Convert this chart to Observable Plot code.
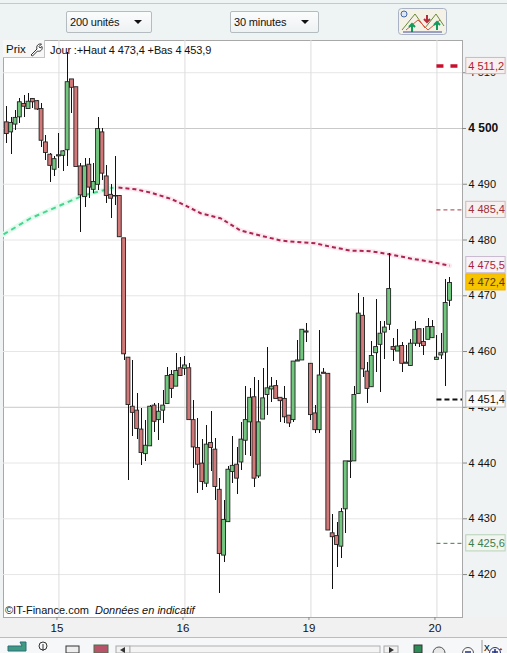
<!DOCTYPE html>
<html lang="fr">
<head>
<meta charset="utf-8">
<script src="https://cdn.jsdelivr.net/npm/d3@7"></script>
<script src="https://cdn.jsdelivr.net/npm/@observablehq/plot@0.6"></script>
<style>
html,body{margin:0;padding:0;background:#eff3f4;width:507px;height:653px;overflow:hidden;font-family:"Liberation Sans",Arial,sans-serif;color:#111}
#wrap{position:relative;width:507px;height:653px}
#chart{position:absolute;left:0;top:0}
.ov{position:absolute}
.dd{border:1px solid #b5bcc0;border-radius:2px;background:linear-gradient(#fbfcfc,#eef2f3);font-size:11px;letter-spacing:-0.15px;line-height:20px;height:20px;padding-left:3px;box-sizing:content-box}
.dd i{position:absolute;right:9px;top:8px;width:0;height:0;border-left:4px solid transparent;border-right:4px solid transparent;border-top:4px solid #111}
</style>
</head>
<body>
<div id="wrap">
  <div class="ov" style="left:0;top:0;width:507px;height:37px;background:#eef3f4"></div>
  <div class="ov" style="left:0;top:3px;width:507px;height:1px;background:#c3c9cc"></div>
  <div class="ov" style="left:0;top:617px;width:507px;height:20px;background:#f1f1f1"></div>
  <div class="ov" style="left:0;top:637px;width:507px;height:1px;background:#b9bdbf"></div>
  <div class="ov" style="left:0;top:638px;width:507px;height:15px;background:#f5f7f8"></div>
  <div id="chart"></div>
  <div class="ov dd" style="left:66px;top:11px;width:81px">200 unités<i></i></div>
  <div class="ov dd" style="left:230px;top:11px;width:84px">30 minutes<i></i></div>
  <svg class="ov" style="left:398px;top:8px" width="49" height="27" viewBox="0 0 49 27">
    <rect x="0.5" y="0.5" width="48" height="26" rx="3" fill="#f4f1e6" stroke="#a9b3c4"/>
    <path d="M4 22L17 6L27 20L38 6L46 18" fill="none" stroke="#6a8a3a"/>
    <path d="M8 22L20 12L30 22L42 12" fill="none" stroke="#d8553f"/>
    <path d="M14 24V17M11 19L14 16L17 19M39 22V15M36 17L39 14L42 17" stroke="#13995a" stroke-width="2" fill="none"/>
    <path d="M29 7V13M26 11L29 14L32 11" stroke="#b32d3c" stroke-width="2" fill="none"/>
    <path d="M5 24H44" stroke="#3d4fa0"/>
    <circle cx="6" cy="6" r="3" fill="#dde6f5" stroke="#4468a8"/>
  </svg>
  <div class="ov" style="left:3px;top:40px;width:42px;height:18px;background:#f7f7f7;border-right:1px solid #c4c4c4;border-bottom:1px solid #c4c4c4;font-size:11.5px;line-height:19px;padding-left:3px;box-sizing:border-box">Prix</div>
  <svg class="ov" style="left:29px;top:42px" width="15" height="15" viewBox="0 0 15 15"><path d="M2 13L8 7C7 4 9 1.500 12.500 2L10 4.500L11 6L13 4.500C14 8 11 10 8.500 9L3.500 14Z" fill="#fff" stroke="#333"/></svg>
  <div class="ov" style="left:50px;top:43px;font-size:11px;letter-spacing:-0.12px;line-height:14px;white-space:nowrap">Jour :+Haut 4 473,4 +Bas 4 453,9</div>
  <div class="ov" style="left:5px;top:604px;font-size:11px;line-height:13px;white-space:nowrap">©IT-Finance.com</div>
  <div class="ov" style="left:95px;top:604px;font-size:11px;line-height:13px;font-style:italic;white-space:nowrap">Données en indicatif</div>
  <svg class="ov" style="left:0;top:638px" width="507" height="15" viewBox="0 0 507 15">
    <path d="M8 8H22L20 4H26V13H8Z" fill="#3f9a82" stroke="#2c6c7a"/>
    <circle cx="43" cy="8" r="4" fill="none" stroke="#333"/><path d="M43 6V13" stroke="#333"/>
    <rect x="66" y="8" width="13" height="7" fill="#eee" stroke="#333"/>
    <rect x="94" y="7" width="14" height="8" fill="#b8546a" stroke="#4b6b4b"/>
    <rect x="116" y="8" width="14" height="7" fill="#f2f2f2" stroke="#a8a8a8"/>
    <path d="M125 9V15L120 12Z" fill="#333"/>
    <rect x="130" y="8" width="250" height="7" fill="#f4f4f4" stroke="#b0b0b0"/>
    <rect x="384" y="8" width="14" height="7" fill="#f2f2f2" stroke="#a8a8a8"/>
    <path d="M389 9V15L394 12Z" fill="#333"/>
    <rect x="414" y="7" width="8" height="8" fill="#2e8b57" stroke="#333"/>
    <circle cx="439" cy="15" r="6" fill="#e8e8e8" stroke="#555"/>
    <circle cx="468" cy="15" r="5.500" fill="#f8f8f8" stroke="#555"/><path d="M465 14H471" stroke="#223388" stroke-width="1.500"/>
    <circle cx="495" cy="15" r="5.500" fill="#f8f8f8" stroke="#223388"/><path d="M492 14H498M495 11V15" stroke="#223388" stroke-width="1.500"/>
    <path d="M482 2V15" stroke="#999"/>
  </svg>
</div>
<script>
const openP = [4501.1,4499.3,4500.7,4502.0,4504.4,4503.5,4505.3,4504.9,4503.5,4497.5,
4495.3,4492.6,4495.0,4495.1,4496.1,4508.8,4507.4,4493.2,4487.7,4493.5,
4489.0,4489.9,4499.3,4491.4,4488.1,4487.9,4487.9,4480.3,4458.9,4450.1,
4449.4,4446.0,4441.6,4443.0,4450.3,4447.7,4449.4,4450.6,4455.8,4453.7,
4457.0,4456.9,4457.0,4447.7,4442.7,4439.9,4436.3,4443.6,4442.4,4435.2,
4423.4,4429.4,4438.4,4439.7,4440.1,4444.0,4447.3,4451.8,4437.6,4447.8,
4452.2,4453.2,4453.8,4451.7,4451.5,4448.5,4447.7,4458.2,4458.4,4463.6,
4457.8,4448.9,4445.9,4456.2,4456.0,4427.4,4426.9,4425.0,4431.7,4440.2,
4440.3,4452.4,4466.4,4456.4,4453.6,4459.7,4461.2,4463.4,4464.8,4460.8,
4460.0,4461.0,4457.8,4457.4,4461.4,4464.0,4461.7,4462.1,4462.4,4458.5,
4459.3,4459.8,4469.1];
const closeP = [4499.0,4501.0,4501.9,4504.7,4503.9,4504.8,4504.7,4503.4,4497.8,4495.6,
4493.3,4494.5,4495.2,4495.9,4508.3,4507.3,4493.1,4488.0,4493.2,4489.4,
4490.4,4499.9,4491.9,4487.9,4487.4,4487.8,4480.5,4459.5,4450.4,4449.0,
4446.1,4441.8,4443.1,4450.1,4447.4,4449.2,4450.3,4455.6,4453.3,4456.5,
4455.6,4457.5,4447.7,4442.8,4439.7,4436.6,4443.3,4442.7,4435.7,4423.7,
4429.8,4438.8,4439.5,4437.2,4444.2,4447.7,4451.7,4437.2,4447.3,4451.6,
4453.4,4453.7,4451.5,4451.1,4448.2,4447.1,4458.2,4458.4,4463.9,4463.4,
4448.6,4445.9,4455.7,4456.0,4427.9,4426.7,4425.3,4431.2,4440.3,4440.3,
4452.2,4466.8,4456.8,4453.3,4459.2,4460.8,4463.2,4464.3,4471.2,4460.3,
4460.9,4457.8,4458.0,4461.4,4463.9,4461.4,4461.0,4464.4,4464.4,4458.9,
4459.7,4468.7,4472.3];
const highP = [4503.9,4502.0,4503.2,4505.4,4505.9,4506.3,4505.4,4505.0,4504.5,4498.7,
4495.6,4494.9,4499.1,4496.0,4513.7,4508.8,4507.4,4493.7,4494.6,4494.6,
4493.7,4502.0,4500.0,4493.4,4490.0,4495.0,4487.9,4480.3,4458.9,4458.4,
4452.5,4449.7,4447.6,4450.3,4450.7,4450.7,4453.1,4457.2,4456.6,4459.6,
4459.0,4459.1,4457.8,4451.2,4448.0,4444.3,4446.7,4449.3,4444.4,4437.3,
4433.3,4439.4,4444.8,4442.8,4447.3,4453.8,4453.3,4455.4,4454.8,4456.9,
4460.8,4455.3,4454.8,4451.7,4453.8,4448.5,4458.2,4462.0,4463.9,4465.1,
4457.8,4450.3,4463.8,4456.9,4456.0,4430.8,4429.4,4431.8,4440.3,4445.8,
4453.7,4470.4,4469.7,4458.1,4461.8,4469.3,4465.3,4465.3,4477.5,4462.4,
4463.9,4461.7,4461.1,4462.1,4465.4,4464.0,4464.1,4466.0,4465.6,4462.9,
4463.2,4472.9,4473.2];
const lowP = [4497.3,4495.3,4499.6,4500.9,4502.0,4503.5,4503.6,4503.2,4496.6,4494.3,
4490.4,4491.3,4492.8,4492.3,4493.2,4502.7,4493.1,4481.4,4485.9,4487.4,
4488.3,4488.9,4490.7,4486.5,4483.9,4486.2,4480.5,4458.4,4436.9,4444.8,
4444.3,4439.6,4440.3,4443.0,4445.5,4444.0,4447.1,4450.6,4451.5,4453.7,
4455.6,4455.7,4447.7,4439.1,4434.6,4435.1,4435.7,4438.5,4433.2,4416.6,
4422.2,4429.4,4436.3,4434.3,4438.7,4441.3,4441.2,4435.6,4437.3,4447.8,
4448.5,4450.9,4451.5,4447.3,4447.1,4446.3,4447.3,4458.2,4458.4,4461.7,
4447.7,4445.3,4445.3,4456.0,4427.9,4417.4,4421.2,4422.8,4427.3,4437.2,
4440.3,4452.4,4455.3,4450.7,4453.6,4456.3,4452.7,4458.5,4463.8,4458.2,
4460.0,4456.3,4457.8,4457.4,4460.9,4460.8,4459.3,4462.1,4462.4,4458.5,
4458.6,4453.7,4468.0];

const greenAvgIndex = [-0.76,5.45,8.45,11.67,17.65,24.56];
const greenAvgValue = [4481.0,4483.9,4484.9,4486.0,4488.0,4489.4];
const redAvgIndex = [25.7,29.6,33.1,37.7,41.1,44.6,49.2,53.8,58.4,63.0,67.6,71.0,74.5,79.1,83.7,88.3,92.9,97.5,101.9];
const redAvgValue = [4489.4,4489.1,4488.5,4487.4,4486.2,4484.8,4483.9,4481.7,4480.8,4479.9,4479.6,4479.4,4478.8,4478.1,4478.0,4477.4,4476.7,4476.1,4475.4];

const dayTicks = [12,41,70,99];
const dayLabels = ["15","16","19","20"];
const priceTicks = [4420,4430,4440,4450,4460,4470,4480,4490,4500,4510];
const majorTicks = [4450,4500];

const levelValues = [4511.2,4485.4,4475.5,4472.4,4451.4,4425.6];
const levelText = ["4 511,2","4 485,4","4 475,5","4 472,4","4 451,4","4 425,6"];
const levelInk = ["#b3202c","#9c2f3a","#a81e40","#5a3c00","#111111","#3f7d4a"];
const levelFill = ["#f6f0f0","#f6f0f0","#f7f3f6","#f7c400","#fbfbfb","#f1f6f0"];
const levelBorder = ["#d9b5b5","#d9b5b5","#c9bcd0","#f0b000","#b8b8b8","#b9d3b9"];
const levelLines = [
  {v:4511.2,c:"#c8102e",w:3.4,d:"7 7"},
  {v:4485.4,c:"#a83a44",w:1,d:"4 3"},
  {v:4451.4,c:"#111",w:2,d:"5 3"},
  {v:4425.6,c:"#3f7d4a",w:1,d:"4 3"}
];

const fmtTick = v => { const s = String(v); return s[0] + " " + s.slice(1); };
const idx = d3.range(openP.length);
const isUp = i => closeP[i] >= openP[i];
const avgG = greenAvgIndex.map((x,i)=>({x,y:greenAvgValue[i]}));
const avgR = redAvgIndex.map((x,i)=>({x,y:redAvgValue[i]}));
const levels = levelValues.map((v,i)=>({v,t:levelText[i],ink:levelInk[i],fill:levelFill[i],border:levelBorder[i]}));
const sideX0 = 105.75, sideX1 = 114.8, sideTextX = 106.2;

const chart = Plot.plot({
  width:507, height:653,
  marginLeft:3, marginRight:45, marginTop:40, marginBottom:36,
  style:{background:"transparent",fontFamily:"'Liberation Sans',Arial,sans-serif",fontSize:"11px",color:"#111"},
  x:{domain:[-0.76,104.88],axis:null},
  y:{domain:[4412.3,4515.78],axis:null},
  marks:[
    Plot.frame({fill:"#fff",stroke:"#a8a8a8"}),
    Plot.gridY(priceTicks.filter(t=>!majorTicks.includes(t)),{stroke:"#e6e6e6",strokeOpacity:1}),
    Plot.gridY(majorTicks,{stroke:"#c9c9c9",strokeOpacity:1}),
    Plot.gridX(dayTicks,{stroke:"#dcdcdc",strokeOpacity:1}),
    Plot.axisX({ticks:dayTicks,tickSize:3,tickPadding:3,tickFormat:d=>dayLabels[dayTicks.indexOf(d)],fontSize:11.5,stroke:"#888",anchor:"bottom",dx:-2}),
    Plot.axisY({ticks:priceTicks.filter(t=>t!==4500),tickSize:4,tickPadding:2,tickFormat:fmtTick,fontSize:11,stroke:"#888",anchor:"right"}),
    Plot.ruleY([4500],{x1:()=>104.88,x2:()=>105.8,stroke:"#888"}),
    Plot.text([4500],{x:()=>sideTextX,y:d=>d,text:fmtTick,textAnchor:"start",fontWeight:"bold",fontSize:12,fill:"#111"}),
    Plot.line(avgG,{x:"x",y:"y",stroke:"#e2fbee",strokeWidth:5}),
    Plot.line(avgR,{x:"x",y:"y",stroke:"#fdeaf0",strokeWidth:5}),
    Plot.line(avgG,{x:"x",y:"y",stroke:"#46d68e",strokeWidth:2,strokeDasharray:"5 4",strokeLinecap:"butt"}),
    Plot.line(avgR,{x:"x",y:"y",stroke:"#a8264f",strokeWidth:2,strokeDasharray:"4 3",strokeLinecap:"butt"}),
    Plot.ruleX(idx,{x:i=>i,y1:i=>lowP[i],y2:i=>highP[i],stroke:"#111",strokeWidth:1,shapeRendering:"crispEdges"}),
    Plot.rect(idx,{
      x1:i=>i-0.45,x2:i=>i+0.45,
      y1:i=>openP[i],y2:i=>closeP[i],
      fill:i=>isUp(i)?"#72c77f":"#d27878",stroke:"#222",strokeWidth:0.9
    }),
    ...levelLines.map(l=>Plot.ruleY([l.v],{x1:()=>99,x2:()=>104.88,stroke:l.c,strokeWidth:l.w,strokeDasharray:l.d,strokeLinecap:"butt"})),
    Plot.rect(levels,{x1:()=>sideX0,x2:()=>sideX1,y1:d=>d.v-1.45,y2:d=>d.v+1.45,fill:d=>d.fill,stroke:d=>d.border}),
    Plot.text(levels,{x:()=>sideTextX,y:"v",text:"t",fill:d=>d.ink,textAnchor:"start",fontSize:11})
  ]
});
document.getElementById("chart").appendChild(chart);
</script>
</body>
</html>
